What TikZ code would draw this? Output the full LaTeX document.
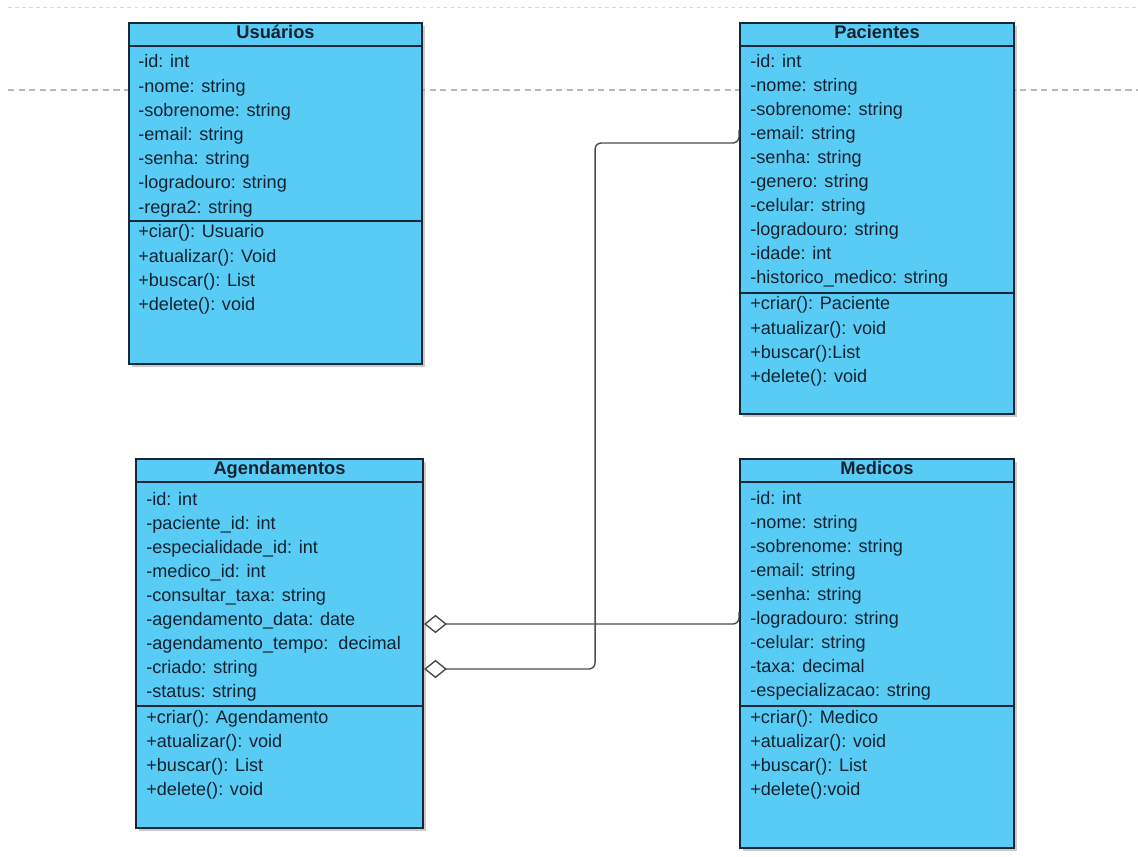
\documentclass[tikz,border=0pt]{standalone}
\usepackage{fontspec}
\setmainfont{Liberation Sans}
\usepackage{tikz}
\usetikzlibrary{calc,arrows.meta,shadows}
\definecolor{classfill}{RGB}{88,204,245}
\definecolor{classdraw}{RGB}{22,40,56}
\definecolor{classtext}{RGB}{18,34,48}
\tikzset{
  classbox/.style={draw=classdraw, fill=classfill, line width=1.2pt, inner sep=0pt, anchor=north west,
    drop shadow={shadow xshift=1.6pt, shadow yshift=-1.6pt, fill=black!40, opacity=0.5}},
  classline/.style={draw=classdraw, line width=1.1pt},
  classname/.style={anchor=base, font=\fontsize{10.4}{12}\selectfont\bfseries, text=classtext, inner sep=0pt},
  member/.style={anchor=base west, font=\fontsize{10.3}{12}\selectfont, text=classtext, inner sep=0pt},
  assoc/.style={draw=black!70, line width=0.8pt, rounded corners=3.5pt,
    {Diamond[open, fill=white, length=13pt, width=10.5pt, line width=0.8pt]}-}
}

\begin{document}
\begin{tikzpicture}[x=0.02cm, y=-0.02cm]
	\useasboundingbox[fill=white] (0,0) rectangle (1138,857);

	% Page guides
	\draw[black!15, line width=0.5pt, dash pattern=on 2pt off 2pt] (8,7) -- (1138,7);
	\draw[black!28, line width=0.6pt, dash pattern=on 3.5pt off 2.5pt] (8,90) -- (1138,90);

	% Classes
	\node[classbox, minimum width=5.86cm, minimum height=6.82cm] (usu) at (128,22) {};
	\node[classbox, minimum width=5.48cm, minimum height=7.82cm] (pac) at (739,22) {};
	\node[classbox, minimum width=5.74cm, minimum height=7.38cm] (agd) at (135,458) {};
	\node[classbox, minimum width=5.48cm, minimum height=7.78cm] (med) at (739,458) {};

	\foreach \c/\s in {usu/199, pac/271, agd/248, med/248} {
		\draw[classline] ($(\c.north west)+(0,24)$) -- ($(\c.north east)+(0,24)$);
		\draw[classline] ($(\c.north west)+(0,\s)$) -- ($(\c.north east)+(0,\s)$);
	}

	\node[classname] (usu-name) at ($(usu.north)+(0,17)$) {Usuários};
	\node[classname] (pac-name) at ($(pac.north)+(0,17)$) {Pacientes};
	\node[classname] (agd-name) at ($(agd.north)+(0,17)$) {Agendamentos};
	\node[classname] (med-name) at ($(med.north)+(0,17)$) {Medicos};

	% Usuarios
	\foreach \t [count=\i] in {-id: int, -nome: string, -sobrenome: string, -email: string,
		-senha: string, -logradouro: string, -regra2: string}
		\node[member] (usu-a\i) at (138, 43.8+24.2*\i) {\t};
	\foreach \t [count=\i] in {+ciar(): Usuario, +atualizar(): Void, +buscar(): List, +delete(): void}
		\node[member] (usu-m\i) at (138, 213.7+24.3*\i) {\t};

	% Pacientes
	\foreach \t [count=\i] in {-id: int, -nome: string, -sobrenome: string, -email: string,
		-senha: string, -genero: string, -celular: string, -logradouro: string, -idade: int,
		-historico\_medico: string}
		\node[member] (pac-a\i) at (750, 44.1+23.9*\i) {\t};
	\foreach \t [count=\i] in {+criar(): Paciente, +atualizar(): void, +buscar():List, +delete(): void}
		\node[member] (pac-m\i) at (750, 285.7+24.3*\i) {\t};

	% Agendamentos
	\foreach \t [count=\i] in {-id: int, -paciente\_id: int, -especialidade\_id: int, -medico\_id: int,
		-consultar\_taxa: string, -agendamento\_data: date, -agendamento\_tempo:\ \ decimal,
		-criado: string, -status: string}
		\node[member] (agd-a\i) at (146, 481+24*\i) {\t};
	\foreach \t [count=\i] in {+criar(): Agendamento, +atualizar(): void, +buscar(): List, +delete(): void}
		\node[member] (agd-m\i) at (146, 699+24*\i) {\t};

	% Medicos
	\foreach \t [count=\i] in {-id: int, -nome: string, -sobrenome: string, -email: string,
		-senha: string, -logradouro: string, -celular: string, -taxa: decimal, -especializacao: string}
		\node[member] (med-a\i) at (750, 480.5+24*\i) {\t};
	\foreach \t [count=\i] in {+criar(): Medico, +atualizar(): void, +buscar(): List, +delete():void}
		\node[member] (med-m\i) at (750, 699+24*\i) {\t};

	% Associations
	\draw[assoc] ($(agd.north east)+(0,166)$) -| ($(med.north west)+(0,154)$);
	\draw[assoc] ($(agd.north east)+(0,211)$) -- ++(171,0) -- ++(0,-526) -| ($(pac.north west)+(0,108)$);
\end{tikzpicture}
\end{document}
